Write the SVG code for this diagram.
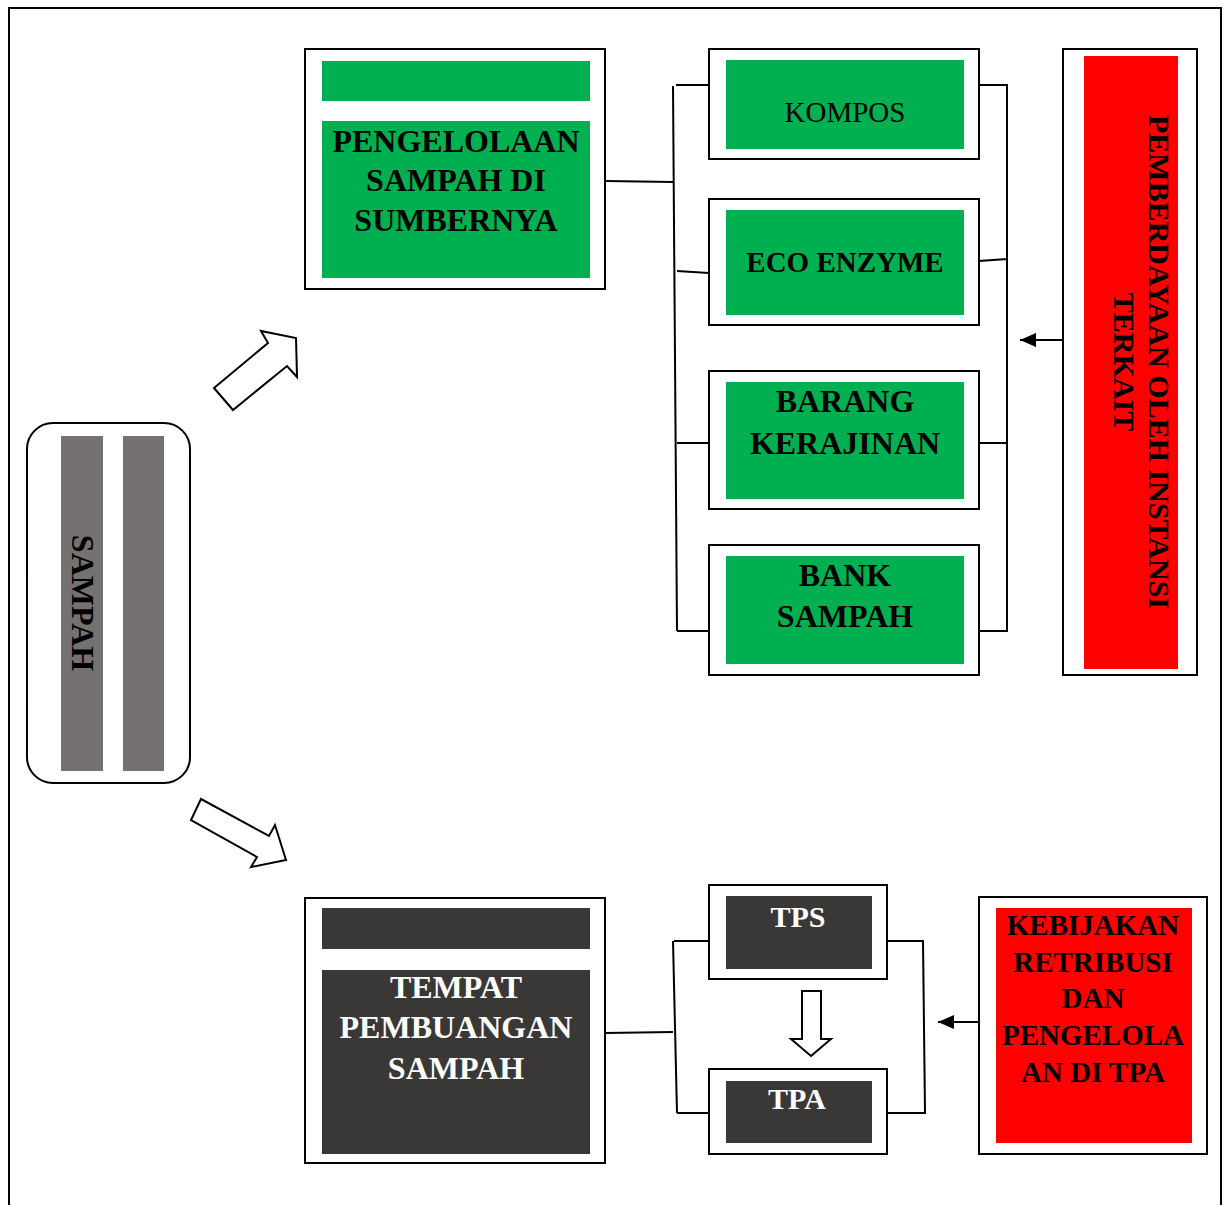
<svg xmlns="http://www.w3.org/2000/svg" width="1228" height="1205" viewBox="0 0 1228 1205">
<style>
.frame{fill:#fff;stroke:#000;stroke-width:2}
.green{fill:#00B050}
.dark{fill:#3A3836}
.red{fill:#FF0000}
.gray{fill:#767171}
.t{font-family:"Liberation Serif","Times New Roman",serif;font-weight:bold;text-anchor:middle;fill:#000}
.w{fill:#fff}
.conn{fill:none;stroke:#000;stroke-width:2}
.blk{fill:#fff;stroke:#000;stroke-width:2;stroke-linejoin:miter}
</style>
<defs>
<marker id="ah" markerUnits="userSpaceOnUse" markerWidth="16" markerHeight="14" refX="16" refY="7" orient="auto">
<path d="M0,0 L16,7 L0,14 z" fill="#000"/>
</marker>
</defs>
<rect width="1228" height="1205" fill="#fff"/>
<path d="M9,1205 L9,8 L1221,8 L1221,1205" fill="none" stroke="#000" stroke-width="2"/>

<g id="sampah">
<rect x="27" y="423" width="163" height="360" rx="26" class="frame"/>
<rect x="61" y="436" width="42" height="335" class="gray"/>
<rect x="123" y="436" width="41" height="335" class="gray"/>
<text class="t" font-size="32" transform="translate(72,603) rotate(90)">SAMPAH</text>
</g>

<g id="arrow-up">
<polygon class="blk" points="214,388 268,343 261,331 296,338 297,377 287,366 233,410"/>
</g>
<g id="arrow-down">
<polygon class="blk" points="201,799 269,836 275,825 286,860 251,867 257,857 191,820"/>
</g>

<g id="pengelolaan">
<rect x="305" y="49" width="300" height="240" class="frame"/>
<rect x="322" y="61" width="268" height="40" class="green"/>
<rect x="322" y="121" width="268" height="157" class="green"/>
<text class="t" font-size="32"><tspan x="456" y="152">PENGELOLAAN</tspan><tspan x="456" y="191">SAMPAH DI</tspan><tspan x="456" y="231">SUMBERNYA</tspan></text>
</g>

<g id="kompos">
<rect x="709" y="49" width="270" height="110" class="frame"/>
<rect x="726" y="60" width="238" height="89" class="green"/>
<text class="t" font-size="29" style="font-weight:normal" x="845" y="122">KOMPOS</text>
</g>

<g id="eco">
<rect x="709" y="199" width="270" height="126" class="frame"/>
<rect x="726" y="210" width="238" height="105" class="green"/>
<text class="t" font-size="29" x="845" y="272">ECO ENZYME</text>
</g>

<g id="barang">
<rect x="709" y="371" width="270" height="138" class="frame"/>
<rect x="726" y="382" width="238" height="117" class="green"/>
<text class="t" font-size="32"><tspan x="845" y="412">BARANG</tspan><tspan x="845" y="454">KERAJINAN</tspan></text>
</g>

<g id="bank">
<rect x="709" y="545" width="270" height="130" class="frame"/>
<rect x="726" y="556" width="238" height="108" class="green"/>
<text class="t" font-size="32"><tspan x="845" y="586">BANK</tspan><tspan x="845" y="627">SAMPAH</tspan></text>
</g>

<g id="pemberdayaan">
<rect x="1063" y="49" width="134" height="626" class="frame"/>
<rect x="1084" y="56" width="94" height="613" class="red"/>
<text class="t" font-size="30" transform="translate(1149,362) rotate(90)"><tspan x="0" y="0">PEMBERDAYAAN OLEH INSTANSI</tspan><tspan x="0" y="35">TERKAIT</tspan></text>
</g>

<g id="tempat">
<rect x="305" y="898" width="300" height="265" class="frame"/>
<rect x="322" y="908" width="268" height="41" class="dark"/>
<rect x="322" y="970" width="268" height="184" class="dark"/>
<text class="t w" font-size="32"><tspan x="456" y="998">TEMPAT</tspan><tspan x="456" y="1038">PEMBUANGAN</tspan><tspan x="456" y="1079">SAMPAH</tspan></text>
</g>

<g id="tps">
<rect x="709" y="885" width="178" height="94" class="frame"/>
<rect x="726" y="896" width="146" height="73" class="dark"/>
<text class="t w" font-size="30" x="798" y="927">TPS</text>
</g>

<g id="tpa">
<rect x="709" y="1069" width="178" height="85" class="frame"/>
<rect x="726" y="1081" width="146" height="62" class="dark"/>
<text class="t w" font-size="30" x="797" y="1109">TPA</text>
</g>

<g id="arrow-tps-tpa">
<polygon class="blk" points="802,991 821,991 821,1039 831,1039 811,1056 791,1039 802,1039"/>
</g>

<g id="kebijakan">
<rect x="979" y="897" width="228" height="257" class="frame"/>
<rect x="996" y="908" width="196" height="235" class="red"/>
<text class="t" font-size="29"><tspan x="1093" y="935">KEBIJAKAN</tspan><tspan x="1093" y="972">RETRIBUSI</tspan><tspan x="1093" y="1008">DAN</tspan><tspan x="1093" y="1045">PENGELOLA</tspan><tspan x="1093" y="1082">AN DI TPA</tspan></text>
</g>

<g id="connectors">
<path class="conn" d="M605,181 L673,182"/>
<path class="conn" d="M673,86 L677,631"/>
<path class="conn" d="M676,85 L709,85 M677,271 L709,273 M677,443 L709,443 M677,631 L709,631"/>
<path class="conn" d="M979,85 L1007,85 L1007,631 L979,631 M979,261 L1007,259 M979,443 L1007,443"/>
<path class="conn" d="M1063,340 L1020,340" marker-end="url(#ah)"/>
<path class="conn" d="M605,1033 L673,1032"/>
<path class="conn" d="M673,941 L677,1113"/>
<path class="conn" d="M674,941 L709,941 M677,1113 L709,1113"/>
<path class="conn" d="M887,941 L923,941 L925,1113 L887,1113"/>
<path class="conn" d="M979,1022 L938,1022" marker-end="url(#ah)"/>
</g>
</svg>
